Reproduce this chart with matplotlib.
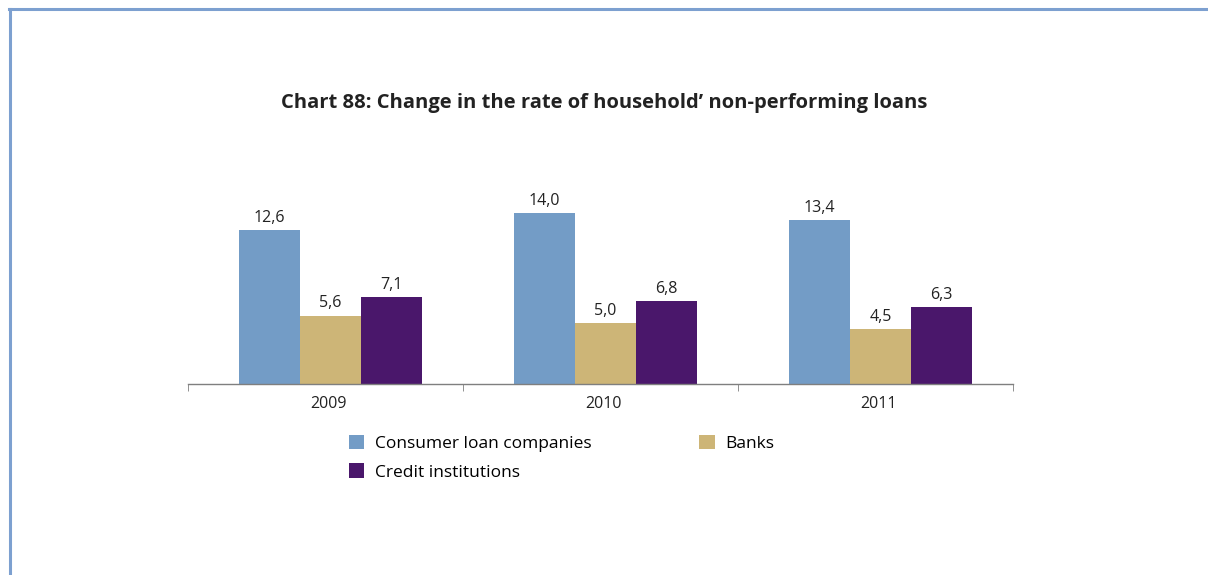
import matplotlib.pyplot as plt
from matplotlib.lines import Line2D
import numpy as np

plt.rcParams['font.family'] = ['Open Sans', 'DejaVu Sans']

years = ['2009', '2010', '2011']
consumer = [12.6, 14.0, 13.4]
banks = [5.6, 5.0, 4.5]
credit = [7.1, 6.8, 6.3]

series_names = ['Consumer loan companies', 'Banks', 'Credit institutions']
colors = ['#739CC6', '#CDB577', '#4A176B']

W, H = 1208, 575
fig = plt.figure(figsize=(W / 100, H / 100), dpi=100)

# axes placed in pixel units: x 188..1013, baseline at y=384
ax = fig.add_axes([188 / W, 1 - 384 / H, (1013 - 188) / W, 195.5 / H])

x = np.arange(len(years))
bw = 0.222
shift = 0.018  # bars sit slightly right of the group centre
bars = []
for i, (vals, c) in enumerate(zip([consumer, banks, credit], colors)):
    pos = x + (i - 1) * bw + shift
    b = ax.bar(pos, vals, width=bw, color=c, label=series_names[i])
    bars.append(b)
    for xi, v in zip(pos, vals):
        ax.text(xi, v + 0.35, f'{v:.1f}'.replace('.', ','), ha='center', va='bottom',
                fontsize=11.5, color='#222222')

ax.set_xlim(-0.5, 2.5)
ax.set_ylim(0, 16)
for s in ['top', 'right', 'left']:
    ax.spines[s].set_visible(False)
ax.spines['bottom'].set_color('#7f7f7f')
ax.spines['bottom'].set_linewidth(1)
ax.set_yticks([])
ax.set_xticks(x + 0.01)
ax.set_xticklabels(years, fontsize=11.5, color='#222222')
ax.tick_params(axis='x', which='major', length=0, pad=9)
ax.set_xticks([-0.5, 0.5, 1.5, 2.5], minor=True)
ax.tick_params(axis='x', which='minor', length=5, color='#7f7f7f', direction='out')

fig.text(604 / W, 1 - 103 / H, 'Chart 88: Change in the rate of household\u2019 non-performing loans',
         ha='center', va='center', fontsize=14.5, fontweight='bold', color='#222222')

handles = [bars[0], bars[2], bars[1]]
labels = [series_names[0], series_names[2], series_names[1]]
fig.legend(handles, labels, ncol=2, loc='upper left',
           bbox_to_anchor=(333 / W, 1 - 419 / H), frameon=False,
           fontsize=12.5, handlelength=0.9, handleheight=0.9, handletextpad=0.6,
           columnspacing=6.2, labelspacing=0.67)

# frame lines at top and left edge
fig.add_artist(Line2D([9 / W, 1], [1 - 9 / H, 1 - 9 / H], color='#7DA0D0', lw=2.2))
fig.add_artist(Line2D([10 / W, 10 / W], [0, 1 - 9 / H], color='#7DA0D0', lw=2.2))

fig.savefig('out.png', dpi=100)
